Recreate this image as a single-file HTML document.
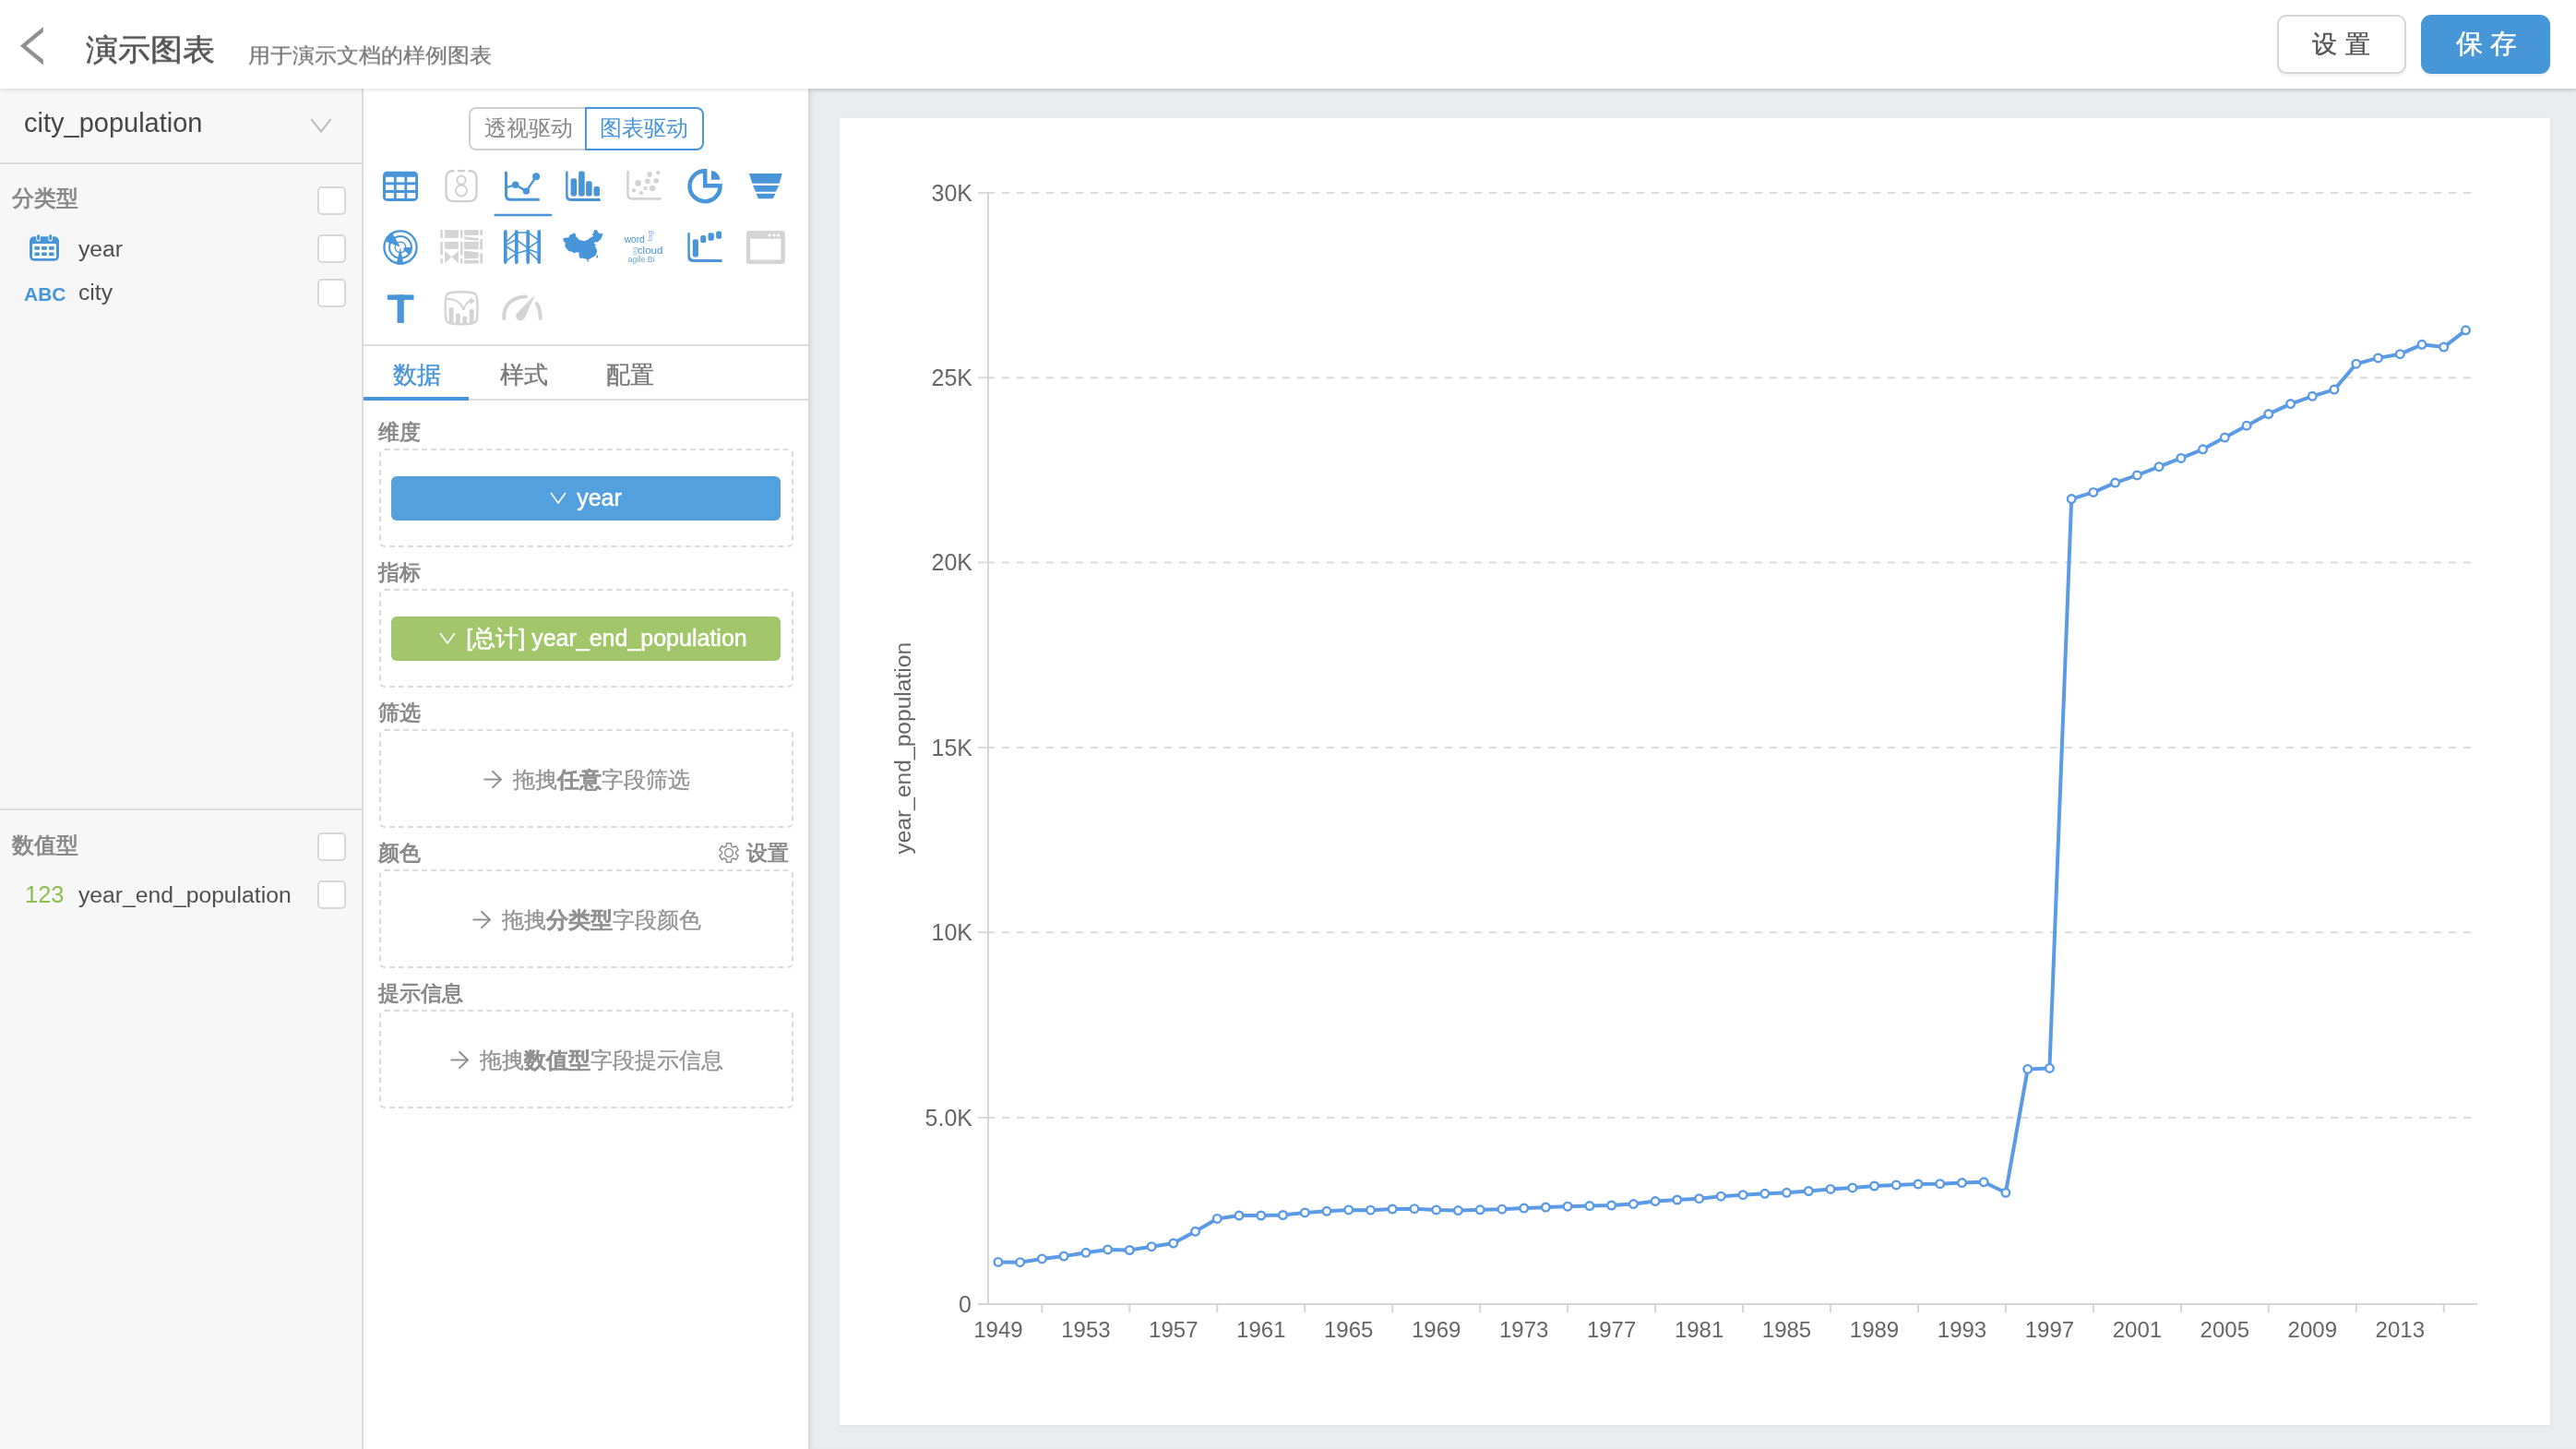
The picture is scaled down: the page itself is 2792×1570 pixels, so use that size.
<!DOCTYPE html>
<html><head><meta charset="utf-8">
<style>
.t,.sec,.ph,.pill,.chart,svg{will-change:transform;}
html,body{margin:0;padding:0;width:2792px;height:1570px;overflow:hidden;background:#fff;font-family:"Liberation Sans",sans-serif;}
.a{position:absolute;}
.t{position:absolute;white-space:nowrap;line-height:1;}
#header{position:absolute;left:0;top:0;width:2792px;height:96px;background:#fff;z-index:3;box-shadow:0 1px 5px rgba(0,0,0,0.13);}
#left{position:absolute;left:0;top:96px;width:392px;height:1474px;background:#f7f7f7;border-right:2px solid #dcdcdc;}
#mid{position:absolute;left:394px;top:96px;width:482px;height:1474px;background:#fff;}
#gray{position:absolute;left:876px;top:96px;width:1916px;height:1474px;background:#ebecf0;box-shadow:inset 3px 2px 4px rgba(0,0,0,0.08);}
#card{position:absolute;left:910px;top:128px;width:1854px;height:1416px;background:#fff;box-shadow:0 1px 3px rgba(0,0,0,0.05);}
.chart{position:absolute;left:910px;top:128px;}
.yl,.xl{font-family:"Liberation Sans",sans-serif;font-size:25px;fill:#666;}
.xl{font-size:24px;}
.yn{font-family:"Liberation Sans",sans-serif;font-size:24.6px;fill:#666;}
.cb{position:absolute;width:27px;height:27px;border:2px solid #d8d8d8;border-radius:5px;background:#fff;}
.sec{position:absolute;font-size:23px;font-weight:bold;color:#8a8a8a;line-height:1;white-space:nowrap;}
.dbox{position:absolute;left:411px;width:445px;height:103px;border:2px dashed #dcdcdc;border-radius:6px;}
.pill{position:absolute;left:424px;width:422px;height:48px;border-radius:6px;color:#fff;font-size:25px;line-height:46px;-webkit-text-stroke:0.5px #fff;text-align:center;white-space:nowrap;}
.ph{position:absolute;left:411px;width:449px;text-align:center;font-size:23.5px;color:#939393;-webkit-text-stroke:0.3px #939393;line-height:1;white-space:nowrap;}
.ph b{color:#8a8a8a;}
.fld{font-size:24.7px;color:#4f4f4f;}
</style></head><body>
<div id="header">
  <svg class="a" style="left:10px;top:20px" width="50" height="60" viewBox="10 20 50 60"><polygon points="22.3,49.8 46.6,29.6 46.6,34.6 28,49.8 46.6,64.8 46.6,70" fill="#8f8f8f" stroke="#8f8f8f" stroke-width="0.6" stroke-linejoin="round"/></svg>
  <div class="t" style="left:93px;top:36.5px;font-size:35px;color:#555;-webkit-text-stroke:0.6px #555;transform:scaleY(0.93);transform-origin:0 0">演示图表</div>
  <div class="t" style="left:268.5px;top:48.5px;font-size:24px;color:#7a7a7a;-webkit-text-stroke:0.3px #7a7a7a;transform:scaleY(0.93);transform-origin:0 0">用于演示文档的样例图表</div>
  <div class="a" style="left:2468px;top:16px;width:136px;height:60px;border:2px solid #d6d6d6;border-radius:10px;background:#fff;box-shadow:0 3px 3px rgba(0,0,0,0.05)"></div>
  <div class="t" style="left:2506px;top:35px;font-size:27px;color:#555;letter-spacing:9px;-webkit-text-stroke:0.4px #555">设置</div>
  <div class="a" style="left:2624px;top:16px;width:140px;height:64px;border-radius:11px;background:#4796d8;box-shadow:0 3px 3px rgba(0,0,0,0.06)"></div>
  <div class="t" style="left:2662px;top:33px;font-size:29px;color:#fff;letter-spacing:8px;-webkit-text-stroke:0.5px #fff">保存</div>
</div>

<div id="left">
  <div class="t" style="left:26px;top:23px;font-size:29px;color:#474747">city_population</div>
  <svg class="a" style="left:336px;top:31px" width="24" height="18" viewBox="0 0 24 18"><polyline points="1.3,2 12,15.6 22.7,2" fill="none" stroke="#b9b9b9" stroke-width="2"/></svg>
  <div class="a" style="left:0;top:80px;width:392px;height:2px;background:#dedede"></div>
  <div class="sec" style="left:13px;top:108px;font-size:23.5px">分类型</div>
  <div class="cb" style="left:344px;top:106px"></div>
  <svg class="a" style="left:32px;top:158px" width="32" height="30" viewBox="0 0 32 30">
    <rect x="0" y="2.2" width="32" height="26.5" rx="5" fill="#4896d9"/>
    <rect x="3" y="9.9" width="26" height="16" rx="1.5" fill="#fff"/>
    <rect x="5.5" y="13" width="5.3" height="3.8" fill="#4896d9"/><rect x="13.2" y="13" width="5.5" height="3.8" fill="#4896d9"/><rect x="21.1" y="13" width="5.4" height="3.8" fill="#4896d9"/>
    <rect x="5.5" y="19.4" width="5.3" height="3.7" fill="#4896d9"/><rect x="13.2" y="19.4" width="5.5" height="3.7" fill="#4896d9"/><rect x="21.1" y="19.4" width="5.4" height="3.7" fill="#4896d9"/>
    <rect x="7.3" y="-0.5" width="4.6" height="8" rx="2.3" fill="#fff"/><rect x="20.4" y="-0.5" width="4.6" height="8" rx="2.3" fill="#fff"/>
    <rect x="8.1" y="0" width="3" height="6.3" rx="1.5" fill="#4896d9"/><rect x="21.2" y="0" width="3" height="6.3" rx="1.5" fill="#4896d9"/>
  </svg>
  <div class="t fld" style="left:85px;top:162px">year</div>
  <div class="cb" style="left:344px;top:158px"></div>
  <div class="t" style="left:26px;top:212px;font-size:21px;font-weight:bold;color:#4896d9">ABC</div>
  <div class="t fld" style="left:85px;top:209px">city</div>
  <div class="cb" style="left:344px;top:206px"></div>
  <div class="a" style="left:0;top:780px;width:392px;height:2px;background:#dedede"></div>
  <div class="sec" style="left:13px;top:809px;font-size:23.5px">数值型</div>
  <div class="cb" style="left:344px;top:806px"></div>
  <div class="t" style="left:27px;top:861px;font-size:25.5px;color:#8cc152">123</div>
  <div class="t fld" style="left:85px;top:862px">year_end_population</div>
  <div class="cb" style="left:344px;top:858px"></div>
</div>

<div id="mid">
  <!-- toggle -->
  <div class="a" style="left:114px;top:20px;width:128px;height:43px;border:2px solid #d0d0d0;border-right:none;border-radius:8px 0 0 8px"></div>
  <div class="a" style="left:240px;top:20px;width:125px;height:43px;border:2px solid #4896d9;border-radius:0 8px 8px 0"></div>
  <div class="t" style="left:131px;top:31px;font-size:24px;color:#888">透视驱动</div>
  <div class="t" style="left:256px;top:31px;font-size:24px;color:#4896d9">图表驱动</div>
  <svg class="a" style="left:6px;top:79px;z-index:1" width="470" height="190" viewBox="400 175 470 190">
<!-- table -->
<g transform="translate(415,185.7)">
 <rect x="0" y="0" width="38" height="32.2" rx="4.5" fill="#4896d9"/>
 <g fill="#fff">
  <rect x="3" y="6.1" width="8.9" height="5.6"/><rect x="14.7" y="6.1" width="8.7" height="5.6"/><rect x="26.2" y="6.1" width="9" height="5.6"/>
  <rect x="3" y="14.6" width="8.9" height="5.7"/><rect x="14.7" y="14.6" width="8.7" height="5.7"/><rect x="26.2" y="14.6" width="9" height="5.7"/>
  <rect x="3" y="23.3" width="8.9" height="5.9"/><rect x="14.7" y="23.3" width="8.7" height="5.9"/><rect x="26.2" y="23.3" width="9" height="5.9"/>
 </g>
</g>
<!-- number 8 -->
<g fill="none" stroke="#d0d0d0" stroke-width="2.4">
 <path d="M492.5,185.1 H491.5 Q483.5,185.1 483.5,193.1 V210.1 Q483.5,218.1 491.5,218.1 H508.5 Q516.5,218.1 516.5,210.1 V193.1 Q516.5,185.1 508.5,185.1 H507.5"/>
 <line x1="495.8" y1="185.1" x2="504.2" y2="185.1"/>
 <circle cx="500" cy="195.2" r="4.6" stroke-width="2"/>
 <circle cx="500" cy="206.6" r="6" stroke-width="2"/>
</g>
<!-- line chart -->
<g fill="none" stroke="#4896d9" stroke-width="3" stroke-linecap="round">
 <path d="M548.5,187 V211.5 Q548.5,216.3 553.3,216.3 H583.5"/>
 <polyline points="549.5,203 558.7,200.2 570.4,207.1 581.1,191.3" stroke-width="2.3"/>
</g>
<g fill="#4896d9"><circle cx="558.7" cy="200.2" r="3.7"/><circle cx="570.4" cy="207.1" r="3.7"/><circle cx="581.1" cy="191.3" r="4"/></g>
<rect x="535.4" y="231.8" width="63" height="2.4" rx="1.2" fill="#4896d9"/>
<!-- bar -->
<g fill="#4896d9">
 <path d="M613.1,186.6 Q613.1,185.6 614.3,185.6 H615.6 V211.5 Q615.6,214.9 619,214.9 H650 Q651,214.9 651,216.4 Q651,217.9 649.5,217.9 H619 Q613.1,217.9 613.1,212 Z"/>
 <rect x="618.6" y="193.2" width="6.5" height="19.2" rx="2.2"/>
 <rect x="627.1" y="185.6" width="6.6" height="26.8" rx="2"/>
 <rect x="635.1" y="196.2" width="6.6" height="16.2" rx="2.2"/>
 <rect x="643.5" y="202.1" width="6.6" height="10.3" rx="2.2"/>
</g>
<!-- scatter gray -->
<g fill="none" stroke="#d4d4d4" stroke-width="2.6" stroke-linecap="round"><path d="M680.5,186 V210.5 Q680.5,215.4 685.4,215.4 H715.5"/></g>
<g fill="#d4d4d4">
 <circle cx="691.6" cy="198.4" r="3.3"/><circle cx="701.9" cy="196.2" r="2.8"/><circle cx="704.1" cy="188.9" r="2.8"/>
 <circle cx="713.2" cy="187.1" r="2.2"/><circle cx="711.2" cy="195.7" r="2.8"/><circle cx="707.2" cy="204" r="3.2"/>
 <circle cx="699.4" cy="204" r="2.2"/><circle cx="694.8" cy="209.1" r="2.2"/><circle cx="686.9" cy="206.3" r="2.2"/>
</g>
<!-- pie -->
<g fill="none" stroke="#4896d9" stroke-width="4.5">
 <path d="M764.2,185.2 A16.5,16.5 0 1 0 780.5,201.2 H764.2 Z" stroke-linejoin="miter"/>
</g>
<path d="M771,185.1 A9.5,9.5 0 0 1 780.3,194.7 H771 Z" fill="#4896d9"/>
<!-- funnel -->
<g fill="#4896d9">
 <polygon points="811.9,188.1 847.7,188.1 844.7,198.7 815.4,198.7"/>
 <polygon points="816,201 844.2,201 840.7,207.8 819,207.8"/>
 <polygon points="819.5,209.8 840.7,209.8 837.6,215.2 822,215.2"/>
</g>
<!-- radar -->
<g>
 <circle cx="434" cy="267.9" r="17.6" fill="none" stroke="#4896d9" stroke-width="2.3"/>
 <circle cx="434" cy="267.9" r="11.9" fill="none" stroke="#4896d9" stroke-width="2"/>
 <circle cx="434" cy="267.9" r="5.8" fill="none" stroke="#4896d9" stroke-width="1.3"/>
 <path fill="#4896d9" d="M432.61,267.34 L416.75,260.93 A18.6,18.6 0 0 1 424.70,251.79 L433.25,266.60 A1.5,1.5 0 0 0 432.61,267.34 Z M438.00,267.90 L446.90,267.90 A12.9,12.9 0 0 1 443.74,276.36 L437.02,270.52 A4,4 0 0 0 438.00,267.90 Z M434.17,268.88 L437.23,286.22 A18.6,18.6 0 0 1 429.50,285.95 L433.76,268.87 A1,1 0 0 0 434.17,268.88 Z"/>
</g>
<!-- sankey gray -->
<g fill="#d4d4d4">
 <rect x="477.3" y="249.1" width="2.5" height="8.7"/><rect x="477.3" y="261.9" width="2.5" height="14.5"/><rect x="477.3" y="280.1" width="2.5" height="5.4"/>
 <rect x="482" y="249.1" width="14.9" height="8.7"/><rect x="482" y="261.9" width="14.9" height="7.9"/>
 <polygon points="482,271.9 489.5,278.3 482,285.3"/><polygon points="496.9,271.9 489.5,278.3 496.9,285.3"/>
 <rect x="499" y="249.1" width="2.5" height="8.7"/><rect x="499" y="261.9" width="2.5" height="14.5"/><rect x="499" y="280.1" width="2.5" height="5.4"/>
 <rect x="503.1" y="249.1" width="15.7" height="5.8"/>
 <polygon points="503.1,256.3 518.8,258.2 518.8,260.8 503.1,259.6"/>
 <rect x="503.1" y="261.9" width="15.7" height="8.3"/>
 <polygon points="503.1,271.6 518.8,273.6 518.8,279.8 503.1,280.6"/>
 <rect x="503.1" y="281.8" width="15.7" height="3.7"/>
 <rect x="520.3" y="249.1" width="2.7" height="5.8"/><rect x="520.3" y="259" width="2.7" height="11.2"/><rect x="520.3" y="274.4" width="2.7" height="11.1"/>
</g>
<!-- parallel -->
<g stroke="#4896d9" stroke-linecap="round" fill="none">
 <g stroke-width="3.7"><line x1="547.8" y1="250.9" x2="547.8" y2="284.1"/><line x1="559.8" y1="250.9" x2="559.8" y2="284.1"/><line x1="572.2" y1="250.9" x2="572.2" y2="284.1"/><line x1="584.2" y1="250.9" x2="584.2" y2="284.1"/></g>
 <g stroke-width="1.6">
  <line x1="548" y1="263" x2="559.8" y2="251.2"/>
  <line x1="548" y1="265.6" x2="559.8" y2="259.5"/>
  <line x1="548" y1="266.5" x2="559.8" y2="274.4"/>
  <line x1="548" y1="283" x2="559.8" y2="274.6"/>
  <line x1="559.8" y1="252" x2="572.2" y2="252"/>
  <line x1="559.8" y1="259.8" x2="572.2" y2="268.8"/>
  <line x1="559.8" y1="274.6" x2="572.2" y2="271"/>
  <line x1="572.2" y1="251.8" x2="584.2" y2="260.4"/>
  <line x1="572.2" y1="269.4" x2="584.2" y2="260.6"/>
  <line x1="572.2" y1="270" x2="584.2" y2="274.2"/>
  <line x1="572.2" y1="271.6" x2="584.2" y2="283"/>
 </g>
</g>
<!-- china -->
<path fill="#4896d9" d="M610.44,258.29 L612.35,257.65 L616.48,257.33 L617.43,255.11 L619.33,253.52 L620.92,253.52 L622.51,252.10 L624.10,254.48 L624.41,256.70 L626.32,257.97 L627.27,259.87 L633.30,261.14 L637.11,259.87 L639.02,257.97 L643.46,255.75 L641.56,254.16 L643.14,252.89 L643.78,249.40 L646.95,249.08 L648.22,251.94 L651.71,253.52 L653.62,252.57 L652.67,256.06 L651.71,258.29 L649.49,260.83 L646.63,262.73 L645.37,261.78 L643.78,263.68 L645.37,264.95 L646.63,264.63 L644.73,266.86 L646.32,269.40 L647.27,272.57 L645.68,276.38 L643.46,278.29 L639.02,280.51 L637.75,281.46 L637.43,283.68 L636.16,283.37 L636.48,281.14 L634.57,280.51 L630.76,279.56 L629.17,280.51 L627.59,277.65 L627.59,273.52 L625.05,273.21 L622.19,274.16 L619.33,272.57 L617.11,272.57 L615.52,270.98 L613.30,268.44 L612.35,266.22 L612.67,263.05 L611.08,261.78 L610.44,260.19 Z"/><ellipse cx="647.27" cy="277.97" rx="0.9" ry="1.7" fill="#4896d9"/>
<!-- word cloud -->
<g fill="#4896d9" font-family="Liberation Sans, sans-serif">
 <text x="676.7" y="262.7" font-size="10.2">word</text>
 <text x="690.8" y="274.7" font-size="11.6">cloud</text>
 <text x="680.6" y="284" font-size="8.9" fill-opacity="0.85">agile Bi</text>
 <text transform="translate(706.7,261.2) rotate(-90)" font-size="8" fill-opacity="0.75">tag</text>
 <text transform="translate(689.6,276.7) rotate(-90)" font-size="6.5" fill-opacity="0.6">tag</text>
</g>
<!-- scatter bars -->
<g fill="#4896d9">
 <path d="M745.3,253 Q745.3,252.1 746.5,252.1 Q747.8,252.1 747.8,253 V276.5 Q747.8,280.9 752.2,280.9 H781.3 Q782.8,280.9 782.8,282.4 Q782.8,283.9 781.3,283.9 H751 Q745.3,283.9 745.3,278.2 Z"/>
 <rect x="750.8" y="259.2" width="6.1" height="19.2" rx="2"/>
 <rect x="759.2" y="255.1" width="6.1" height="7.9" rx="2"/>
 <rect x="767.5" y="252.3" width="6.3" height="8.4" rx="2"/>
 <rect x="776.1" y="250.6" width="6" height="8.1" rx="2"/>
</g>
<!-- window -->
<rect x="808.9" y="250.1" width="41.9" height="35.8" rx="3" fill="#d4d4d4"/>
<rect x="813.1" y="258.7" width="33.3" height="22.7" fill="#fff"/>
<g fill="#fff"><circle cx="834.1" cy="254.9" r="1.7"/><circle cx="839" cy="254.9" r="1.7"/><circle cx="843.7" cy="254.9" r="1.7"/></g>
<!-- T -->
<g fill="#4896d9"><rect x="419.8" y="319.4" width="28.7" height="5.5"/><rect x="430.6" y="319.4" width="7.2" height="30.5"/></g>
<!-- chart in squircle -->
<g fill="none" stroke="#d4d4d4" stroke-width="2.4">
 <path d="M500.1,316.3 C510,316.3 514.5,316.8 516,319.5 C517.5,322 517.5,327 517.5,333.7 C517.5,340.4 517.5,345.5 516,348 C514.5,350.7 510,351.2 500.1,351.2 C490.2,351.2 485.7,350.7 484.2,348 C482.7,345.5 482.7,340.4 482.7,333.7 C482.7,327 482.7,322 484.2,319.5 C485.7,316.8 490.2,316.3 500.1,316.3 Z"/>
 <path d="M483,324.5 C492,322.5 500,327.5 502.5,336" stroke-width="2"/>
 <path d="M502.5,336 C503.5,330 506,327 512,325" stroke-width="2"/>
</g>
<g fill="#d4d4d4">
 <polygon points="509.3,322 514.7,326.1 509.7,330.3"/>
 <rect x="486.7" y="333.1" width="4.9" height="17.5" rx="1.5"/>
 <rect x="494" y="339.4" width="4.9" height="11.3" rx="1.5"/>
 <rect x="501.3" y="342.8" width="4.9" height="7.9" rx="1.5"/>
 <rect x="508.7" y="335" width="4.9" height="15.7" rx="1.5"/>
</g>
<!-- gauge -->
<g fill="none" stroke="#d4d4d4" stroke-width="4" stroke-linecap="round">
 <path d="M546.3,345 C545.5,330 555.5,321.5 570,321.5"/>
 <path d="M581.8,329 C584.5,333 585.7,338 585.7,345"/>
</g>
<path fill="#d4d4d4" d="M579.9,319.4 L569,344 C567,348 562,348.5 560,345.5 C558.5,343 559,341 561.5,338 Z"/>
</svg>

  <div class="a" style="left:0;top:277px;width:482px;height:2px;background:#dedede"></div>
  <div class="t" style="left:32px;top:298px;font-size:25.5px;color:#4896d9;-webkit-text-stroke:0.4px #4896d9">数据</div>
  <div class="t" style="left:148px;top:298px;font-size:25.5px;color:#7a7a7a;-webkit-text-stroke:0.4px #7a7a7a">样式</div>
  <div class="t" style="left:263px;top:298px;font-size:25.5px;color:#7a7a7a;-webkit-text-stroke:0.4px #7a7a7a">配置</div>
  <div class="a" style="left:0;top:336px;width:482px;height:2px;background:#dedede"></div>
  <div class="a" style="left:0;top:334px;width:114px;height:4px;background:#4896d9"></div>
</div>
<div class="a" style="left:876px;top:96px;width:2px;height:1474px;background:#d8d8d8;z-index:2"></div>

<div class="sec" style="left:410px;top:457px">维度</div>
<div class="dbox" style="top:486px"></div>
<div class="pill" style="top:516px;background:#53a0de">
  <svg style="vertical-align:middle;margin-right:11px;position:relative;top:-2px" width="18" height="13" viewBox="0 0 18 13"><polyline points="1,1 9,12 17,1" fill="none" stroke="#fff" stroke-width="1.6"/></svg>year</div>
<div class="sec" style="left:410px;top:609px">指标</div>
<div class="dbox" style="top:638px"></div>
<div class="pill" style="top:668px;background:#a2c66a;padding-left:16px;width:406px">
  <svg style="vertical-align:middle;margin-right:11px;position:relative;top:-2px" width="18" height="13" viewBox="0 0 18 13"><polyline points="1,1 9,12 17,1" fill="none" stroke="#fff" stroke-width="1.6"/></svg>[总计] year_end_population</div>
<div class="sec" style="left:410px;top:761px">筛选</div>
<div class="dbox" style="top:790px"></div>
<div class="ph" style="top:832px"><svg style="position:relative;top:2px;margin-right:11px" width="21" height="21" viewBox="0 0 21 21"><g fill="none" stroke="#8f8f8f" stroke-width="1.9"><line x1="0.5" y1="10.5" x2="19" y2="10.5"/><polyline points="9.5,1.2 19,10.5 9.5,19.8"/></g></svg>拖拽<b>任意</b>字段筛选</div>
<div class="sec" style="left:410px;top:913px">颜色</div>
<svg class="a" style="left:778px;top:912px" width="24" height="24" viewBox="0 0 24 24"><g fill="none" stroke="#8f8f8f" stroke-width="1.5" stroke-linejoin="round"><circle cx="12" cy="12" r="4.4"/><path d="M9.15,4.95 L9.62,1.67 L14.38,1.67 L14.85,4.95 L16.68,6.01 L19.75,4.77 L22.14,8.90 L19.53,10.94 L19.53,13.06 L22.14,15.10 L19.75,19.23 L16.68,17.99 L14.85,19.05 L14.38,22.33 L9.62,22.33 L9.15,19.05 L7.32,17.99 L4.25,19.23 L1.86,15.10 L4.47,13.06 L4.47,10.94 L1.86,8.90 L4.25,4.77 L7.32,6.01Z"/></g></svg>
<div class="sec" style="left:809px;top:913px">设置</div>
<div class="dbox" style="top:942px"></div>
<div class="ph" style="top:984px"><svg style="position:relative;top:2px;margin-right:11px" width="21" height="21" viewBox="0 0 21 21"><g fill="none" stroke="#8f8f8f" stroke-width="1.9"><line x1="0.5" y1="10.5" x2="19" y2="10.5"/><polyline points="9.5,1.2 19,10.5 9.5,19.8"/></g></svg>拖拽<b>分类型</b>字段颜色</div>
<div class="sec" style="left:410px;top:1065px">提示信息</div>
<div class="dbox" style="top:1094px"></div>
<div class="ph" style="top:1136px"><svg style="position:relative;top:2px;margin-right:11px" width="21" height="21" viewBox="0 0 21 21"><g fill="none" stroke="#8f8f8f" stroke-width="1.9"><line x1="0.5" y1="10.5" x2="19" y2="10.5"/><polyline points="9.5,1.2 19,10.5 9.5,19.8"/></g></svg>拖拽<b>数值型</b>字段提示信息</div>

<div id="gray"></div>
<div id="card"></div>
<svg class="chart" width="1854" height="1416" viewBox="910 128 1854 1416">
<line x1="1070" y1="209" x2="2685" y2="209" stroke="#dcdcdc" stroke-width="2" stroke-dasharray="8 8"/>
<line x1="1060" y1="209" x2="1071" y2="209" stroke="#dcdcdc" stroke-width="2"/>
<text x="1054" y="217.5" text-anchor="end" class="yl">30K</text>
<line x1="1070" y1="409.2" x2="2685" y2="409.2" stroke="#dcdcdc" stroke-width="2" stroke-dasharray="8 8"/>
<line x1="1060" y1="409.2" x2="1071" y2="409.2" stroke="#dcdcdc" stroke-width="2"/>
<text x="1054" y="417.7" text-anchor="end" class="yl">25K</text>
<line x1="1070" y1="609.4" x2="2685" y2="609.4" stroke="#dcdcdc" stroke-width="2" stroke-dasharray="8 8"/>
<line x1="1060" y1="609.4" x2="1071" y2="609.4" stroke="#dcdcdc" stroke-width="2"/>
<text x="1054" y="617.9" text-anchor="end" class="yl">20K</text>
<line x1="1070" y1="810" x2="2685" y2="810" stroke="#dcdcdc" stroke-width="2" stroke-dasharray="8 8"/>
<line x1="1060" y1="810" x2="1071" y2="810" stroke="#dcdcdc" stroke-width="2"/>
<text x="1054" y="818.5" text-anchor="end" class="yl">15K</text>
<line x1="1070" y1="1010.2" x2="2685" y2="1010.2" stroke="#dcdcdc" stroke-width="2" stroke-dasharray="8 8"/>
<line x1="1060" y1="1010.2" x2="1071" y2="1010.2" stroke="#dcdcdc" stroke-width="2"/>
<text x="1054" y="1018.7" text-anchor="end" class="yl">10K</text>
<line x1="1070" y1="1211" x2="2685" y2="1211" stroke="#dcdcdc" stroke-width="2" stroke-dasharray="8 8"/>
<line x1="1060" y1="1211" x2="1071" y2="1211" stroke="#dcdcdc" stroke-width="2"/>
<text x="1054" y="1219.5" text-anchor="end" class="yl">5.0K</text>
<text x="1053" y="1421.5" text-anchor="end" class="yl">0</text>
<line x1="1071" y1="208" x2="1071" y2="1413" stroke="#d6d6d6" stroke-width="2"/>
<line x1="1060" y1="1413" x2="2685" y2="1413" stroke="#d6d6d6" stroke-width="2"/>
<line x1="1129.4" y1="1413" x2="1129.4" y2="1422" stroke="#d6d6d6" stroke-width="2"/>
<line x1="1224.3" y1="1413" x2="1224.3" y2="1422" stroke="#d6d6d6" stroke-width="2"/>
<line x1="1319.3" y1="1413" x2="1319.3" y2="1422" stroke="#d6d6d6" stroke-width="2"/>
<line x1="1414.3" y1="1413" x2="1414.3" y2="1422" stroke="#d6d6d6" stroke-width="2"/>
<line x1="1509.2" y1="1413" x2="1509.2" y2="1422" stroke="#d6d6d6" stroke-width="2"/>
<line x1="1604.2" y1="1413" x2="1604.2" y2="1422" stroke="#d6d6d6" stroke-width="2"/>
<line x1="1699.1" y1="1413" x2="1699.1" y2="1422" stroke="#d6d6d6" stroke-width="2"/>
<line x1="1794.1" y1="1413" x2="1794.1" y2="1422" stroke="#d6d6d6" stroke-width="2"/>
<line x1="1889.1" y1="1413" x2="1889.1" y2="1422" stroke="#d6d6d6" stroke-width="2"/>
<line x1="1984.0" y1="1413" x2="1984.0" y2="1422" stroke="#d6d6d6" stroke-width="2"/>
<line x1="2079.0" y1="1413" x2="2079.0" y2="1422" stroke="#d6d6d6" stroke-width="2"/>
<line x1="2173.9" y1="1413" x2="2173.9" y2="1422" stroke="#d6d6d6" stroke-width="2"/>
<line x1="2268.9" y1="1413" x2="2268.9" y2="1422" stroke="#d6d6d6" stroke-width="2"/>
<line x1="2363.9" y1="1413" x2="2363.9" y2="1422" stroke="#d6d6d6" stroke-width="2"/>
<line x1="2458.8" y1="1413" x2="2458.8" y2="1422" stroke="#d6d6d6" stroke-width="2"/>
<line x1="2553.8" y1="1413" x2="2553.8" y2="1422" stroke="#d6d6d6" stroke-width="2"/>
<line x1="2648.7" y1="1413" x2="2648.7" y2="1422" stroke="#d6d6d6" stroke-width="2"/>
<text x="1081.9" y="1449" text-anchor="middle" class="xl">1949</text>
<text x="1176.9" y="1449" text-anchor="middle" class="xl">1953</text>
<text x="1271.8" y="1449" text-anchor="middle" class="xl">1957</text>
<text x="1366.8" y="1449" text-anchor="middle" class="xl">1961</text>
<text x="1461.7" y="1449" text-anchor="middle" class="xl">1965</text>
<text x="1556.7" y="1449" text-anchor="middle" class="xl">1969</text>
<text x="1651.7" y="1449" text-anchor="middle" class="xl">1973</text>
<text x="1746.6" y="1449" text-anchor="middle" class="xl">1977</text>
<text x="1841.6" y="1449" text-anchor="middle" class="xl">1981</text>
<text x="1936.5" y="1449" text-anchor="middle" class="xl">1985</text>
<text x="2031.5" y="1449" text-anchor="middle" class="xl">1989</text>
<text x="2126.5" y="1449" text-anchor="middle" class="xl">1993</text>
<text x="2221.4" y="1449" text-anchor="middle" class="xl">1997</text>
<text x="2316.4" y="1449" text-anchor="middle" class="xl">2001</text>
<text x="2411.3" y="1449" text-anchor="middle" class="xl">2005</text>
<text x="2506.3" y="1449" text-anchor="middle" class="xl">2009</text>
<text x="2601.3" y="1449" text-anchor="middle" class="xl">2013</text>
<text transform="translate(987.2,810.7) rotate(-90)" text-anchor="middle" class="yn">year_end_population</text>
<polyline points="1081.9,1367.4 1105.6,1367.7 1129.4,1363.9 1153.1,1361.1 1176.9,1357.3 1200.6,1353.9 1224.3,1354.5 1248.1,1350.7 1271.8,1347.1 1295.6,1334.3 1319.3,1320.4 1343.0,1317 1366.8,1317 1390.5,1316.5 1414.3,1313.9 1438.0,1312.3 1461.7,1310.9 1485.5,1311.2 1509.2,1310 1533.0,1309.7 1556.7,1310.9 1580.4,1311.6 1604.2,1310.8 1627.9,1310.2 1651.7,1309.1 1675.4,1308.1 1699.1,1307.2 1722.9,1306.6 1746.6,1306 1770.4,1304.6 1794.1,1301.6 1817.8,1300 1841.6,1298.7 1865.3,1296.2 1889.1,1294.7 1912.8,1293.3 1936.5,1292.3 1960.3,1290.5 1984.0,1288.4 2007.8,1286.9 2031.5,1285 2055.2,1283.9 2079.0,1283 2102.7,1282.7 2126.5,1281.6 2150.2,1280.8 2173.9,1292.3 2197.7,1158.4 2221.4,1157.4 2245.2,540.6 2268.9,533.4 2292.6,523.1 2316.4,514.9 2340.1,505.7 2363.9,496.4 2387.6,486.8 2411.3,474.1 2435.1,461.2 2458.8,448.6 2482.6,437.6 2506.3,429.3 2530.0,422.1 2553.8,394.2 2577.5,387.9 2601.3,383.7 2625.0,373.3 2648.7,376.1 2672.5,357.8" fill="none" stroke="#5b9be6" stroke-width="4" stroke-linejoin="round"/>
<circle cx="1081.9" cy="1367.4" r="4.3" fill="#fff" stroke="#5b9be6" stroke-width="2.4"/>
<circle cx="1105.6" cy="1367.7" r="4.3" fill="#fff" stroke="#5b9be6" stroke-width="2.4"/>
<circle cx="1129.4" cy="1363.9" r="4.3" fill="#fff" stroke="#5b9be6" stroke-width="2.4"/>
<circle cx="1153.1" cy="1361.1" r="4.3" fill="#fff" stroke="#5b9be6" stroke-width="2.4"/>
<circle cx="1176.9" cy="1357.3" r="4.3" fill="#fff" stroke="#5b9be6" stroke-width="2.4"/>
<circle cx="1200.6" cy="1353.9" r="4.3" fill="#fff" stroke="#5b9be6" stroke-width="2.4"/>
<circle cx="1224.3" cy="1354.5" r="4.3" fill="#fff" stroke="#5b9be6" stroke-width="2.4"/>
<circle cx="1248.1" cy="1350.7" r="4.3" fill="#fff" stroke="#5b9be6" stroke-width="2.4"/>
<circle cx="1271.8" cy="1347.1" r="4.3" fill="#fff" stroke="#5b9be6" stroke-width="2.4"/>
<circle cx="1295.6" cy="1334.3" r="4.3" fill="#fff" stroke="#5b9be6" stroke-width="2.4"/>
<circle cx="1319.3" cy="1320.4" r="4.3" fill="#fff" stroke="#5b9be6" stroke-width="2.4"/>
<circle cx="1343.0" cy="1317" r="4.3" fill="#fff" stroke="#5b9be6" stroke-width="2.4"/>
<circle cx="1366.8" cy="1317" r="4.3" fill="#fff" stroke="#5b9be6" stroke-width="2.4"/>
<circle cx="1390.5" cy="1316.5" r="4.3" fill="#fff" stroke="#5b9be6" stroke-width="2.4"/>
<circle cx="1414.3" cy="1313.9" r="4.3" fill="#fff" stroke="#5b9be6" stroke-width="2.4"/>
<circle cx="1438.0" cy="1312.3" r="4.3" fill="#fff" stroke="#5b9be6" stroke-width="2.4"/>
<circle cx="1461.7" cy="1310.9" r="4.3" fill="#fff" stroke="#5b9be6" stroke-width="2.4"/>
<circle cx="1485.5" cy="1311.2" r="4.3" fill="#fff" stroke="#5b9be6" stroke-width="2.4"/>
<circle cx="1509.2" cy="1310" r="4.3" fill="#fff" stroke="#5b9be6" stroke-width="2.4"/>
<circle cx="1533.0" cy="1309.7" r="4.3" fill="#fff" stroke="#5b9be6" stroke-width="2.4"/>
<circle cx="1556.7" cy="1310.9" r="4.3" fill="#fff" stroke="#5b9be6" stroke-width="2.4"/>
<circle cx="1580.4" cy="1311.6" r="4.3" fill="#fff" stroke="#5b9be6" stroke-width="2.4"/>
<circle cx="1604.2" cy="1310.8" r="4.3" fill="#fff" stroke="#5b9be6" stroke-width="2.4"/>
<circle cx="1627.9" cy="1310.2" r="4.3" fill="#fff" stroke="#5b9be6" stroke-width="2.4"/>
<circle cx="1651.7" cy="1309.1" r="4.3" fill="#fff" stroke="#5b9be6" stroke-width="2.4"/>
<circle cx="1675.4" cy="1308.1" r="4.3" fill="#fff" stroke="#5b9be6" stroke-width="2.4"/>
<circle cx="1699.1" cy="1307.2" r="4.3" fill="#fff" stroke="#5b9be6" stroke-width="2.4"/>
<circle cx="1722.9" cy="1306.6" r="4.3" fill="#fff" stroke="#5b9be6" stroke-width="2.4"/>
<circle cx="1746.6" cy="1306" r="4.3" fill="#fff" stroke="#5b9be6" stroke-width="2.4"/>
<circle cx="1770.4" cy="1304.6" r="4.3" fill="#fff" stroke="#5b9be6" stroke-width="2.4"/>
<circle cx="1794.1" cy="1301.6" r="4.3" fill="#fff" stroke="#5b9be6" stroke-width="2.4"/>
<circle cx="1817.8" cy="1300" r="4.3" fill="#fff" stroke="#5b9be6" stroke-width="2.4"/>
<circle cx="1841.6" cy="1298.7" r="4.3" fill="#fff" stroke="#5b9be6" stroke-width="2.4"/>
<circle cx="1865.3" cy="1296.2" r="4.3" fill="#fff" stroke="#5b9be6" stroke-width="2.4"/>
<circle cx="1889.1" cy="1294.7" r="4.3" fill="#fff" stroke="#5b9be6" stroke-width="2.4"/>
<circle cx="1912.8" cy="1293.3" r="4.3" fill="#fff" stroke="#5b9be6" stroke-width="2.4"/>
<circle cx="1936.5" cy="1292.3" r="4.3" fill="#fff" stroke="#5b9be6" stroke-width="2.4"/>
<circle cx="1960.3" cy="1290.5" r="4.3" fill="#fff" stroke="#5b9be6" stroke-width="2.4"/>
<circle cx="1984.0" cy="1288.4" r="4.3" fill="#fff" stroke="#5b9be6" stroke-width="2.4"/>
<circle cx="2007.8" cy="1286.9" r="4.3" fill="#fff" stroke="#5b9be6" stroke-width="2.4"/>
<circle cx="2031.5" cy="1285" r="4.3" fill="#fff" stroke="#5b9be6" stroke-width="2.4"/>
<circle cx="2055.2" cy="1283.9" r="4.3" fill="#fff" stroke="#5b9be6" stroke-width="2.4"/>
<circle cx="2079.0" cy="1283" r="4.3" fill="#fff" stroke="#5b9be6" stroke-width="2.4"/>
<circle cx="2102.7" cy="1282.7" r="4.3" fill="#fff" stroke="#5b9be6" stroke-width="2.4"/>
<circle cx="2126.5" cy="1281.6" r="4.3" fill="#fff" stroke="#5b9be6" stroke-width="2.4"/>
<circle cx="2150.2" cy="1280.8" r="4.3" fill="#fff" stroke="#5b9be6" stroke-width="2.4"/>
<circle cx="2173.9" cy="1292.3" r="4.3" fill="#fff" stroke="#5b9be6" stroke-width="2.4"/>
<circle cx="2197.7" cy="1158.4" r="4.3" fill="#fff" stroke="#5b9be6" stroke-width="2.4"/>
<circle cx="2221.4" cy="1157.4" r="4.3" fill="#fff" stroke="#5b9be6" stroke-width="2.4"/>
<circle cx="2245.2" cy="540.6" r="4.3" fill="#fff" stroke="#5b9be6" stroke-width="2.4"/>
<circle cx="2268.9" cy="533.4" r="4.3" fill="#fff" stroke="#5b9be6" stroke-width="2.4"/>
<circle cx="2292.6" cy="523.1" r="4.3" fill="#fff" stroke="#5b9be6" stroke-width="2.4"/>
<circle cx="2316.4" cy="514.9" r="4.3" fill="#fff" stroke="#5b9be6" stroke-width="2.4"/>
<circle cx="2340.1" cy="505.7" r="4.3" fill="#fff" stroke="#5b9be6" stroke-width="2.4"/>
<circle cx="2363.9" cy="496.4" r="4.3" fill="#fff" stroke="#5b9be6" stroke-width="2.4"/>
<circle cx="2387.6" cy="486.8" r="4.3" fill="#fff" stroke="#5b9be6" stroke-width="2.4"/>
<circle cx="2411.3" cy="474.1" r="4.3" fill="#fff" stroke="#5b9be6" stroke-width="2.4"/>
<circle cx="2435.1" cy="461.2" r="4.3" fill="#fff" stroke="#5b9be6" stroke-width="2.4"/>
<circle cx="2458.8" cy="448.6" r="4.3" fill="#fff" stroke="#5b9be6" stroke-width="2.4"/>
<circle cx="2482.6" cy="437.6" r="4.3" fill="#fff" stroke="#5b9be6" stroke-width="2.4"/>
<circle cx="2506.3" cy="429.3" r="4.3" fill="#fff" stroke="#5b9be6" stroke-width="2.4"/>
<circle cx="2530.0" cy="422.1" r="4.3" fill="#fff" stroke="#5b9be6" stroke-width="2.4"/>
<circle cx="2553.8" cy="394.2" r="4.3" fill="#fff" stroke="#5b9be6" stroke-width="2.4"/>
<circle cx="2577.5" cy="387.9" r="4.3" fill="#fff" stroke="#5b9be6" stroke-width="2.4"/>
<circle cx="2601.3" cy="383.7" r="4.3" fill="#fff" stroke="#5b9be6" stroke-width="2.4"/>
<circle cx="2625.0" cy="373.3" r="4.3" fill="#fff" stroke="#5b9be6" stroke-width="2.4"/>
<circle cx="2648.7" cy="376.1" r="4.3" fill="#fff" stroke="#5b9be6" stroke-width="2.4"/>
<circle cx="2672.5" cy="357.8" r="4.3" fill="#fff" stroke="#5b9be6" stroke-width="2.4"/>
</svg>
</body></html>
